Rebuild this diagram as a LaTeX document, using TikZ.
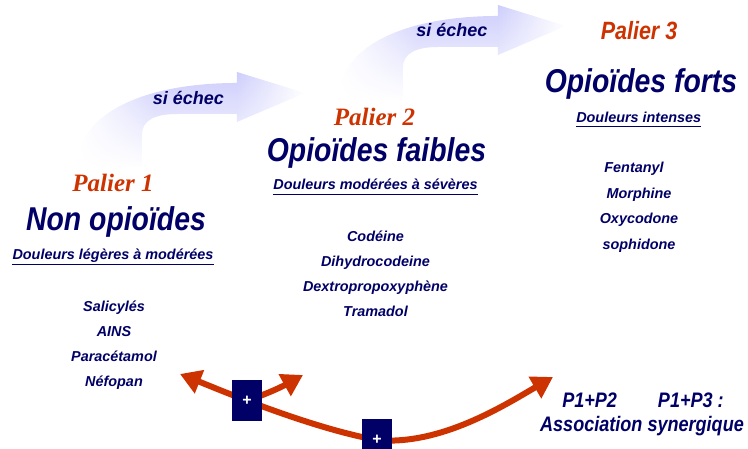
\documentclass[tikz,border=0pt]{standalone}
\usepackage{fontspec}
\setmainfont{Liberation Sans}
\newfontfamily\condf{Liberation Sans}[FakeStretch=0.86]
\newfontfamily\serf{Liberation Serif}
\usetikzlibrary{arrows.meta,fadings}
\definecolor{deepnavy}{RGB}{0,0,102}
\definecolor{rust}{RGB}{204,51,0}
\definecolor{lav}{RGB}{205,205,252}
\pgfdeclarehorizontalshading{ribbon}{100bp}{color(0bp)=(white); color(25bp)=(white); color(42bp)=(lav); color(60bp)=(lav); color(75bp)=(white); color(100bp)=(white)}
\tikzfading[name=ribbonfade, top color=transparent!0, middle color=transparent!0, bottom color=transparent!100]
\begin{document}
\begin{tikzpicture}[x=1pt,y=-1pt,
  txt/.style={inner sep=0pt, anchor=base, text=deepnavy, font=\bfseries\itshape},
  palier/.style={inner sep=0pt, anchor=base, text=rust, font=\serf\bfseries\itshape\fontsize{25}{30}\selectfont},
  palierc/.style={inner sep=0pt, anchor=base, text=rust, font=\condf\bfseries\itshape\fontsize{25}{30}\selectfont},
  title/.style={txt, font=\condf\bfseries\itshape\fontsize{33}{40}\selectfont},
  sub/.style={txt, font=\bfseries\itshape\fontsize{14.4}{17}\selectfont},
  drug/.style={txt, font=\bfseries\itshape\fontsize{14.4}{17}\selectfont},
  echec/.style={txt, font=\bfseries\itshape\fontsize{18}{21}\selectfont},
  bottomtxt/.style={txt, font=\condf\bfseries\itshape\fontsize{21}{25}\selectfont},
  uline/.style={draw=deepnavy, line width=1.4pt},
  ribbonarrow/.style={shading=ribbon, path fading=ribbonfade},
  redarr/.style={draw=rust, line width=6pt},
  plusbox/.style={fill=deepnavy, minimum width=30pt, minimum height=41pt, inner sep=0pt, text=white, font=\bfseries\fontsize{16}{16}\selectfont}
]
\useasboundingbox (0,0) rectangle (748,449);
\clip (0,0) rectangle (748,449);

% shaded "si echec" ribbons
\path[ribbonarrow] (77,168) .. controls (77,110) and (150,83) .. (237,83) -- (237,72) -- (305,93) -- (237,122) -- (237,114) -- (178,114) .. controls (155,114) and (142,120) .. (142,135) -- (142,168) -- cycle;
\begin{scope}[shift={(261,-67)}]
\path[ribbonarrow] (77,168) .. controls (77,110) and (150,83) .. (237,83) -- (237,72) -- (305,93) -- (237,122) -- (237,114) -- (178,114) .. controls (155,114) and (142,120) .. (142,135) -- (142,168) -- cycle;
\end{scope}
\node[echec] (e1) at (188.5,105) {si échec};
\node[echec] (e2) at (452,37) {si échec};

% Palier 1
\node[palier] (p1) at (113,192) {Palier 1};
\node[title] (t1) at (116,231) {Non opioïdes};
\node[sub] (s1) at (113,260) {Douleurs légères à modérées};
\draw[uline] ([yshift=-4.3pt]s1.base west) -- ([yshift=-4.3pt]s1.base east);
\node[drug] (d11) at (114,312) {Salicylés};
\node[drug] (d12) at (114,337) {AINS};
\node[drug] (d13) at (114,362) {Paracétamol};
\node[drug] (d14) at (114,387) {Néfopan};

% Palier 2
\node[palier] (p2) at (374.5,126) {Palier 2};
\node[title] (t2) at (376.5,162) {Opioïdes faibles};
\node[sub] (s2) at (375.5,190) {Douleurs modérées à sévères};
\draw[uline] ([yshift=-4.3pt]s2.base west) -- ([yshift=-4.3pt]s2.base east);
\node[drug] (d21) at (375.5,242) {Codéine};
\node[drug] (d22) at (375.5,267) {Dihydrocodeine};
\node[drug] (d23) at (375.5,292) {Dextropropoxyphène};
\node[drug] (d24) at (375.5,317) {Tramadol};

% Palier 3
\node[palierc] (p3) at (639,40) {Palier 3};
\node[title] (t3) at (641,93) {Opioïdes forts};
\node[sub] (s3) at (638.7,122.5) {Douleurs intenses};
\draw[uline] ([yshift=-4.3pt]s3.base west) -- ([yshift=-4.3pt]s3.base east);
\node[drug] (d31) at (634,173) {Fentanyl};
\node[drug] (d32) at (639,199) {Morphine};
\node[drug] (d33) at (639,224) {Oxycodone};
\node[drug] (d34) at (639,250) {sophidone};

% association text
\node[bottomtxt] (a1) at (643,408) {P1+P2\hspace{41pt}P1+P3 :};
\node[bottomtxt] (a2) at (642,431.5) {Association synergique};

% red arrows
\coordinate (A) at (180,374);
\coordinate (D) at (553,377);
\coordinate (E) at (303,375);
\coordinate (B) at (247,400.5);
\coordinate (C) at (377,440);
\draw[redarr, {Triangle[length=21pt,width=24pt]}-] (A) .. controls (220,390) and (310,428) .. (C);
\draw[redarr, -{Triangle[length=21pt,width=24pt]}] (C) .. controls (440,446) and (505,405) .. (D);
\draw[redarr, -{Triangle[length=21pt,width=24pt]}] (B) .. controls (270,393) and (285,385) .. (E);
\node[plusbox] (b1) at (B) {+};
\node[plusbox] (b2) at (C) {+};
\end{tikzpicture}
\end{document}
